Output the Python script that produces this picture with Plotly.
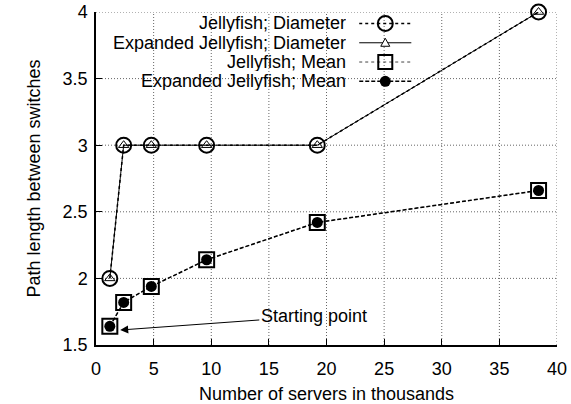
import plotly.graph_objects as go

# ---- data ----
servers_k = [1.2, 2.4, 4.8, 9.6, 19.2, 38.4]
jf_diameter = [2, 3, 3, 3, 3, 4]
exp_diameter = [2, 3, 3, 3, 3, 4]
jf_mean = [1.64, 1.82, 1.94, 2.14, 2.42, 2.66]
exp_mean = [1.64, 1.82, 1.94, 2.14, 2.42, 2.66]

x_ticks = [0, 5, 10, 15, 20, 25, 30, 35, 40]
y_ticks = [1.5, 2, 2.5, 3, 3.5, 4]
y_tick_text = ["1.5", "2", "2.5", "3", "3.5", "4"]

series_names = [
    "Jellyfish; Diameter",
    "Expanded Jellyfish; Diameter",
    "Jellyfish; Mean",
    "Expanded Jellyfish; Mean",
]

FONT = "Liberation Sans, Arial, Helvetica, sans-serif"
FS = 18
KEY_FS = 18
X_RANGE = [0, 40]
Y_RANGE = [1.5, 4]

fig = go.Figure()

fig.add_trace(go.Scatter(
    x=servers_k, y=jf_diameter, mode="lines+markers", name=series_names[0],
    line=dict(color="black", width=1.5, dash="dot"),
    marker=dict(symbol="circle-open", size=15, color="black", line=dict(width=2, color="black")),
    cliponaxis=False, showlegend=False))
fig.add_trace(go.Scatter(
    x=servers_k, y=exp_diameter, mode="lines+markers", name=series_names[1],
    line=dict(color="black", width=1),
    marker=dict(symbol="triangle-up-open", size=9, color="black", line=dict(width=1, color="black")),
    cliponaxis=False, showlegend=False))
fig.add_trace(go.Scatter(
    x=servers_k, y=jf_mean, mode="lines+markers", name=series_names[2],
    line=dict(color="#444", width=1, dash="dot"),
    marker=dict(symbol="square-open", size=15, color="black", line=dict(width=2, color="black")),
    cliponaxis=False, showlegend=False))
fig.add_trace(go.Scatter(
    x=servers_k, y=exp_mean, mode="lines+markers", name=series_names[3],
    line=dict(color="black", width=1.5, dash="4px,2px"),
    marker=dict(symbol="circle", size=11, color="black"),
    cliponaxis=False, showlegend=False))

shapes = []
annotations = []

# ---- dotted grid (drawn as shapes so the key box can hide it) ----
grid_line = dict(color="#666", width=1, dash="1px,2px")
for xv in x_ticks[1:]:
    shapes.append(dict(type="line", xref="x", yref="y", x0=xv, x1=xv, y0=Y_RANGE[0], y1=Y_RANGE[1],
                       line=grid_line, layer="below"))
for yv in y_ticks[1:]:
    shapes.append(dict(type="line", xref="x", yref="y", x0=X_RANGE[0], x1=X_RANGE[1], y0=yv, y1=yv,
                       line=grid_line, layer="below"))
# key area hides the grid (except the top border line)
shapes.append(dict(type="rect", xref="paper", yref="paper", x0=0.01, x1=0.71, y0=0.759, y1=0.994,
                   fillcolor="white", line=dict(width=0), layer="below"))

# ---- custom key (text left of sample, like gnuplot) ----
row_y = [0.9655, 0.9076, 0.8498, 0.7919]
lx0, lx1, lxm = 0.571, 0.684, 0.6275
line_styles = [
    dict(color="black", width=1.5, dash="dot"),
    dict(color="black", width=1),
    dict(color="#444", width=1, dash="dot"),
    dict(color="black", width=1.5, dash="4px,2px"),
]
for name, yy, ls in zip(series_names, row_y, line_styles):
    annotations.append(dict(text=name, xref="paper", yref="paper", x=0.545, y=yy,
                            xanchor="right", yanchor="middle", showarrow=False,
                            height=18, borderpad=0, valign="middle",
                            font=dict(family=FONT, size=KEY_FS, color="black")))
    shapes.append(dict(type="line", xref="paper", yref="paper", x0=lx0, x1=lx1, y0=yy, y1=yy,
                       line=ls, layer="above"))
# markers of the key
shapes.append(dict(type="circle", xref="paper", yref="paper", xsizemode="pixel", ysizemode="pixel",
                   xanchor=lxm, yanchor=row_y[0], x0=-7.5, x1=7.5, y0=-7.5, y1=7.5,
                   line=dict(color="black", width=2), fillcolor="rgba(0,0,0,0)", layer="above"))
shapes.append(dict(type="path", xref="paper", yref="paper", xsizemode="pixel", ysizemode="pixel",
                   xanchor=lxm, yanchor=row_y[1], path="M -4.5 -3.5 L 4.5 -3.5 L 0 4.5 Z",
                   line=dict(color="black", width=1), fillcolor="white", layer="above"))
shapes.append(dict(type="rect", xref="paper", yref="paper", xsizemode="pixel", ysizemode="pixel",
                   xanchor=lxm, yanchor=row_y[2], x0=-7, x1=7, y0=-7, y1=7,
                   line=dict(color="black", width=2), fillcolor="rgba(0,0,0,0)", layer="above"))
shapes.append(dict(type="circle", xref="paper", yref="paper", xsizemode="pixel", ysizemode="pixel",
                   xanchor=lxm, yanchor=row_y[3], x0=-5.5, x1=5.5, y0=-5.5, y1=5.5,
                   line=dict(color="black", width=0), fillcolor="black", layer="above"))

# "Starting point" arrow
annotations.append(dict(text="Starting point", x=2.1, y=1.6125, xref="x", yref="y",
                        ax=18.9, ay=1.7175, axref="x", ayref="y",
                        showarrow=True, arrowhead=2, arrowsize=1.6, arrowwidth=1, arrowcolor="black",
                        standoff=0, font=dict(family=FONT, size=FS, color="black")))

axis_common = dict(
    showline=True, linecolor="black", linewidth=1.5, mirror=False,
    ticks="inside", ticklen=6, tickwidth=1, tickcolor="black",
    showgrid=False, zeroline=False, automargin=False,
    tickfont=dict(family=FONT, size=FS, color="black"),
)

fig.update_xaxes(range=X_RANGE, tickvals=x_ticks, ticktext=[str(v) for v in x_ticks],
                 ticklabelstandoff=7,
                 title=dict(text="Number of servers in thousands", standoff=12,
                            font=dict(family=FONT, size=FS, color="black")),
                 **axis_common)
fig.update_yaxes(range=Y_RANGE, tickvals=y_ticks, ticktext=y_tick_text,
                 ticklabelstandoff=3,
                 title=dict(text="Path length between switches", standoff=17,
                            font=dict(family=FONT, size=FS, color="black")),
                 **axis_common)

fig.update_layout(
    width=571, height=404,
    margin=dict(l=95.5, r=14, t=11.5, b=59),
    paper_bgcolor="white", plot_bgcolor="white",
    font=dict(family=FONT, size=FS, color="black"),
    shapes=shapes, annotations=annotations,
)

fig.write_html("out.html", config={"displayModeBar": False},
               post_script="document.body.style.margin='0';")
